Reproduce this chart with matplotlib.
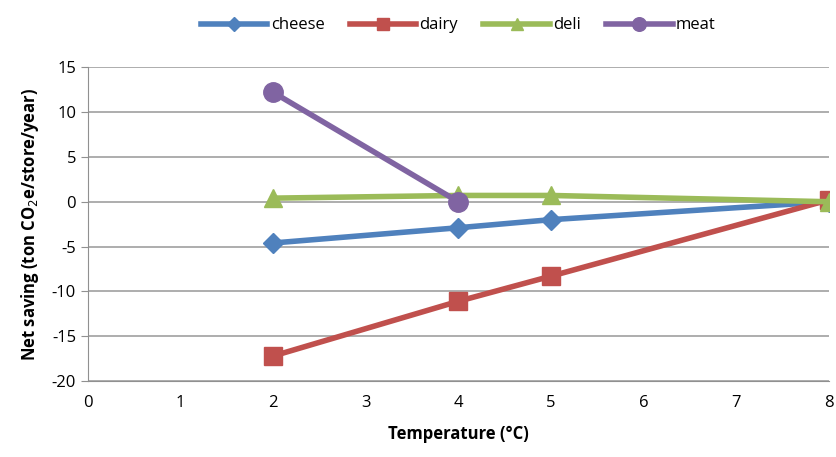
import matplotlib.pyplot as plt

temps_cheese = [2, 4, 5, 8]
cheese = [-4.6, -2.9, -2.0, 0.0]

temps_dairy = [2, 4, 5, 8]
dairy = [-17.2, -11.1, -8.3, 0.2]

temps_deli = [2, 4, 5, 8]
deli = [0.4, 0.7, 0.7, 0.0]

temps_meat = [2, 4]
meat = [12.2, 0.0]

x_ticks = list(range(0, 9))
y_ticks = list(range(-20, 16, 5))


def main():
    plt.rcParams['font.family'] = ['Open Sans', 'DejaVu Sans']
    plt.rcParams['axes.unicode_minus'] = False
    fig = plt.figure(figsize=(8.37, 4.57), dpi=100)
    ax = fig.add_axes([0.105, 0.166, 0.885, 0.687])

    lw = 4
    ax.plot(temps_cheese, cheese, color='#4F81BD', lw=lw, marker='D', ms=10,
            label='cheese', zorder=3)
    ax.plot(temps_dairy, dairy, color='#C0504D', lw=lw, marker='s', ms=13,
            label='dairy', zorder=3)
    ax.plot(temps_deli, deli, color='#9BBB59', lw=lw, marker='^', ms=13,
            label='deli', zorder=3)
    ax.plot(temps_meat, meat, color='#8064A2', lw=lw, marker='o', ms=14,
            label='meat', zorder=4)

    ax.set_xlim(0, 8)
    ax.set_ylim(-20, 15)
    ax.set_xticks(x_ticks)
    ax.set_yticks(y_ticks)
    ax.yaxis.grid(True, color='#A0A0A0', lw=1.2)
    ax.set_axisbelow(True)
    for s in ['top', 'right']:
        ax.spines[s].set_visible(False)
    for s in ['left', 'bottom']:
        ax.spines[s].set_color('#909090')
    ax.tick_params(axis='both', labelsize=12, color='#909090', length=5)
    ax.tick_params(axis='x', length=0, pad=10)

    ax.set_xlabel('Temperature (°C)', fontsize=12, fontweight='bold', labelpad=10)
    ax.set_ylabel('Net saving (ton CO$_2$e/store/year)', fontsize=12,
                  fontweight='bold', labelpad=8)

    ax.legend(loc='lower center', bbox_to_anchor=(0.5, 1.06), ncol=4,
              frameon=False, fontsize=12, handlelength=4, columnspacing=1.5,
              handletextpad=0.2, markerscale=0.7)

    fig.savefig('out.png', dpi=100)


if __name__ == "__main__":
    main()
